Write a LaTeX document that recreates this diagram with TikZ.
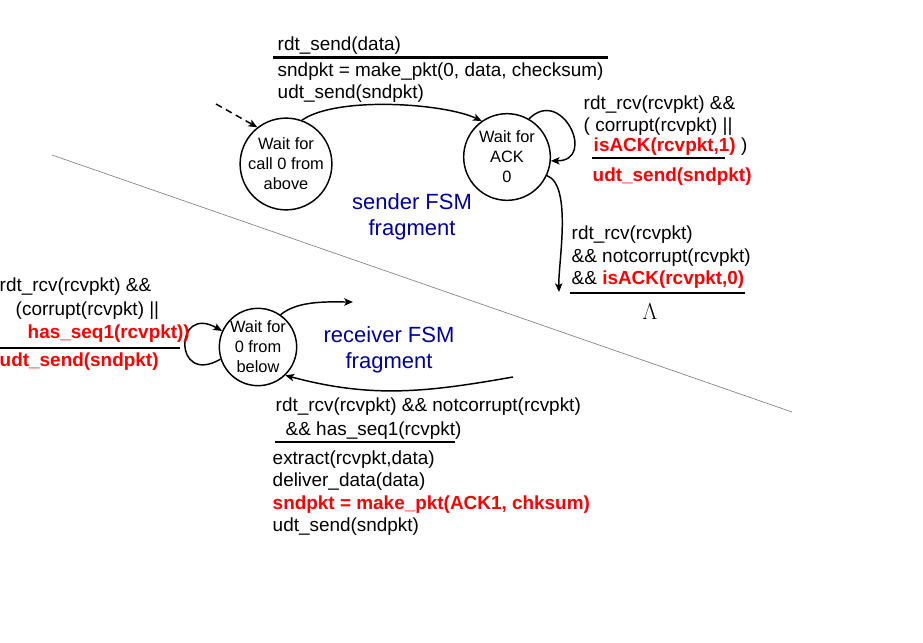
\documentclass[tikz,border=0pt]{standalone}
\usepackage{fontspec}
\setmainfont{Liberation Sans}
\usetikzlibrary{arrows,arrows.meta,positioning,calc}
\definecolor{fsmblue}{RGB}{0,0,160}
\definecolor{actred}{RGB}{255,0,0}

\begin{document}
\begin{tikzpicture}[
        ->,>={Stealth[length=6.5pt,width=5.5pt,inset=1.5pt]}, x=0.75pt, y=-0.75pt, line width=1.1pt
    ]

    \tikzstyle{state} = [circle,draw,inner sep=0pt,align=center,
        font=\fontsize{12.3}{15}\selectfont]
    \tikzstyle{txt} = [anchor=base west,inner sep=0pt,
        font=\fontsize{14.2}{17}\selectfont]
    \tikzstyle{act} = [txt,text=actred,font=\fontsize{14.2}{17}\selectfont\bfseries]
    \tikzstyle{bar} = [-,line width=2.2pt]
    \tikzstyle{fsm} = [anchor=base,align=center,text=fsmblue,
        font=\fontsize{16.5}{19.2}\selectfont]

    \useasboundingbox (0,0) rectangle (923,642);

    \draw[-,line width=0.5pt,gray] (52,155) -- (792,412);

    \node[state,minimum size=64pt] (wait0) at (286,164) {Wait for\\call 0 from\\above};
    \node[state,minimum size=65pt] (ack0)  at (507,157) {Wait for\\ACK\\0};
    \node[state,minimum size=58pt] (recv0) at (258,347) {Wait for\\0 from\\below};

    \coordinate (init)      at (216,104);
    \coordinate (toack1)    at (559,292);
    \coordinate (towait1)   at (353,302);
    \coordinate (fromwait1) at (513,377);

    \path
        (init)      edge[dash pattern=on 5pt off 3.5pt] (wait0.128)
        (wait0.70)  edge[out=35,in=155,looseness=0.6]   (ack0.125)
        (ack0.60)   edge[out=45,in=0,looseness=2.5]     (ack0.355)
        (ack0.335)  edge[out=-20,in=92,looseness=0.6]   (toack1)
        (recv0.198) edge[out=210,in=150,looseness=5]    (recv0.156)
        (recv0.55)  edge[out=40,in=180,looseness=0.8]   (towait1)
        (fromwait1) edge[out=190,in=345]                (recv0.314)
    ;

    \node[fsm] (sndfsm) at (412,235) {sender FSM\\fragment};
    \node[fsm] (rcvfsm) at (389,368) {receiver FSM\\fragment};

    \node[txt] (snd)  at (277,50.5) {rdt\_send(data)};
    \draw[bar] (273,57.7) -- (608,57.7);
    \node[txt] (mk0)  at (277,76.5) {sndpkt = make\_pkt(0, data, checksum)};
    \node[txt] (udt0) at (277,98.5) {udt\_send(sndpkt)};

    \node[txt] (rcv1) at (583,109.5) {rdt\_rcv(rcvpkt) \&\&};
    \node[txt] (cor1) at (583,131.5) {( corrupt(rcvpkt) \textbar\textbar};
    \node[txt] (ack1) at (593,151.5) {\textcolor{actred}{\bfseries isACK(rcvpkt,1)} )};
    \draw[bar] (592,158) -- (725,158);
    \node[act] (re1)  at (592,181.5) {udt\_send(sndpkt)};

    \node[txt] (rcv2) at (571,239.5) {rdt\_rcv(rcvpkt)};
    \node[txt] (nc2)  at (571,262.5) {\&\& notcorrupt(rcvpkt)};
    \node[txt] (ack2) at (571,284.5) {\&\& \textcolor{actred}{\bfseries isACK(rcvpkt,0)}};
    \draw[bar] (570,293) -- (745,293);
    \node (lam) at (650,312) {\fontsize{17}{19}\selectfont$\Lambda$};

    \node[txt] (rcv3) at (-1,291.5) {rdt\_rcv(rcvpkt) \&\&};
    \node[txt] (cor3) at (15,315.5) {(corrupt(rcvpkt) \textbar\textbar};
    \node[act] (seq3) at (27,338.5) {has\_seq1(rcvpkt))};
    \draw[bar] (0,348) -- (180,348);
    \node[act] (re3)  at (-1,366) {udt\_send(sndpkt)};

    \node[txt] (rcv4) at (275,411.5) {rdt\_rcv(rcvpkt) \&\& notcorrupt(rcvpkt)};
    \node[txt] (seq4) at (285,435.5) {\&\& has\_seq1(rcvpkt)};
    \draw[bar] (275,442) -- (455,442);
    \node[txt] (ext4) at (272,464.5) {extract(rcvpkt,data)};
    \node[txt] (del4) at (272,486.5) {deliver\_data(data)};
    \node[act] (mk4)  at (272,509.5) {sndpkt = make\_pkt(ACK1, chksum)};
    \node[txt] (udt4) at (272,531.5) {udt\_send(sndpkt)};

\end{tikzpicture}
\end{document}
